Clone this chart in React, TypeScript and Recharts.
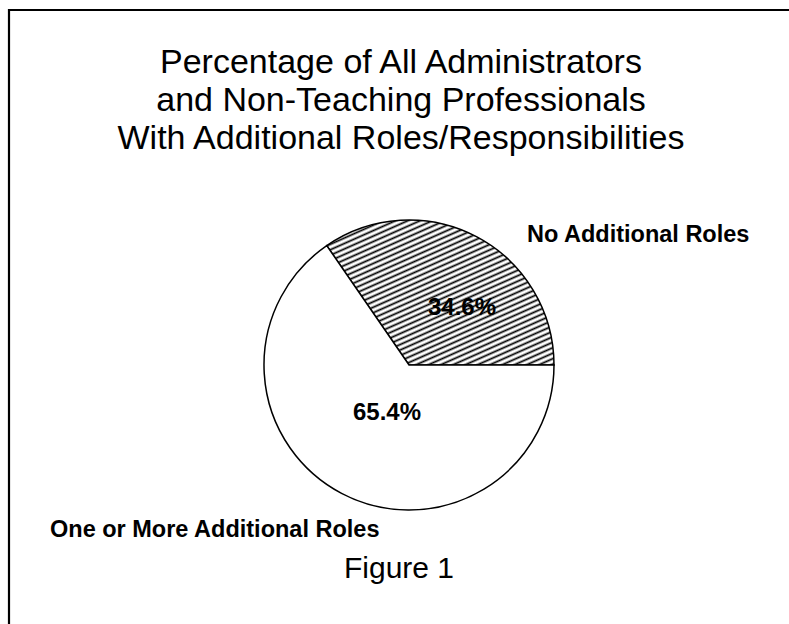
import { PieChart, Pie, Cell } from 'recharts';

const categories = ['No Additional Roles', 'One or More Additional Roles'];
const percents = [34.6, 65.4];
const titleLines = [
  'Percentage of All Administrators',
  'and Non-Teaching Professionals',
  'With Additional Roles/Responsibilities',
];
const caption = 'Figure 1';

const data = categories.map((name, i) => ({ name, value: percents[i] }));

// label placement relative to the pie centre
const valuePos = [
  { dx: 53, dy: -50 },
  { dx: -22, dy: 55 },
];
const namePos = [
  { dx: 118, dy: -123 },
  { dx: -359, dy: 172 },
];

const FONT = '"Liberation Sans", Arial, Helvetica, sans-serif';

const renderLabel = (props: any) => {
  const { cx, cy, index } = props;
  const v = valuePos[index];
  const n = namePos[index];
  return (
    <g>
      <text
        x={cx + v.dx}
        y={cy + v.dy}
        textAnchor="middle"
        fontFamily={FONT}
        fontWeight="bold"
        fontSize={24}
        fill="#000"
      >
        {percents[index].toFixed(1)}%
      </text>
      <text
        x={cx + n.dx}
        y={cy + n.dy}
        textAnchor="start"
        fontFamily={FONT}
        fontWeight="bold"
        fontSize={23.5}
        fill="#000"
      >
        {categories[index]}
      </text>
    </g>
  );
};

export default function App() {
  return (
    <div style={{ position: 'fixed', left: 0, top: 0, width: 789, height: 624, background: '#fff' }}>
      <svg width={789} height={624} style={{ position: 'absolute', left: 0, top: 0 }}>
        <line x1={9} y1={10} x2={789} y2={10} stroke="#000" strokeWidth={2.2} />
        <line x1={9} y1={9} x2={9} y2={624} stroke="#000" strokeWidth={2.2} />
        {titleLines.map((t, i) => (
          <text
            key={i}
            x={401}
            y={73 + i * 38}
            textAnchor="middle"
            fontFamily={FONT}
            fontSize={34}
            fill="#000"
          >
            {t}
          </text>
        ))}
        <text x={399} y={578} textAnchor="middle" fontFamily={FONT} fontSize={30} fill="#000">
          {caption}
        </text>
      </svg>
      <div style={{ position: 'absolute', left: 0, top: 0 }}>
        <PieChart width={789} height={624}>
          <defs>
            <pattern
              id="hatch"
              patternUnits="userSpaceOnUse"
              width={5}
              height={5}
              patternTransform="rotate(-24)"
            >
              <rect width={5} height={5} fill="#fff" />
              <line x1={0} y1={2.5} x2={5} y2={2.5} stroke="#000" strokeWidth={1.8} />
            </pattern>
          </defs>
          <Pie
            data={data}
            dataKey="value"
            nameKey="name"
            cx={404}
            cy={360}
            outerRadius={145}
            startAngle={0}
            endAngle={360}
            stroke="#000"
            strokeWidth={1.5}
            label={renderLabel}
            labelLine={false}
            isAnimationActive={false}
          >
            {data.map((_, i) => (
              <Cell key={i} fill={i === 0 ? 'url(#hatch)' : '#fff'} />
            ))}
          </Pie>
        </PieChart>
      </div>
    </div>
  );
}
